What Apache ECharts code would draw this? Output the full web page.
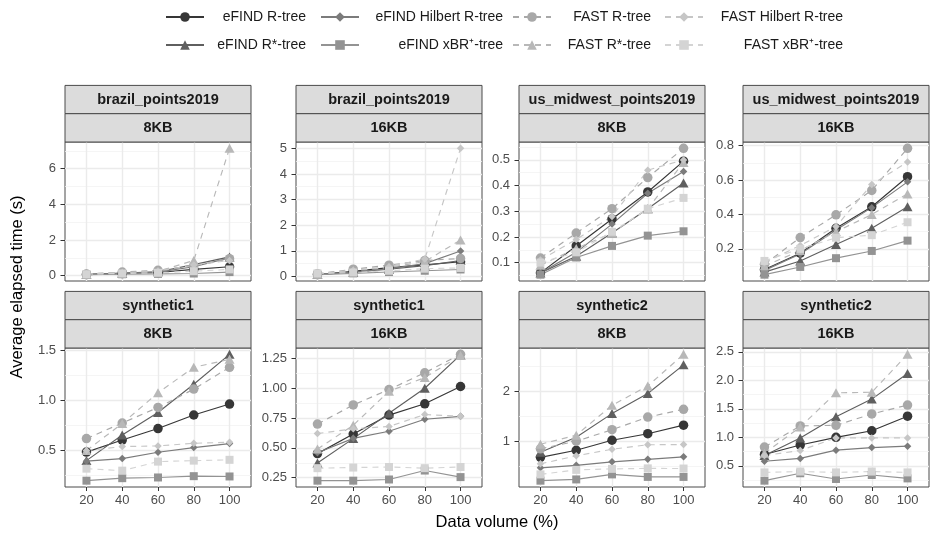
<!DOCTYPE html>
<html>
<head>
<meta charset="utf-8">
<script src="https://cdn.jsdelivr.net/npm/echarts@6/dist/echarts.min.js"></script>
<style>
  html, body { margin: 0; padding: 0; background: #fff; }
  #chart { width: 931px; height: 536px; }
</style>
</head>
<body>
<div id="chart"></div>
<script>
// Data volume (%) on the x axis
const volumes = [20, 40, 60, 80, 100];

// Facet labels (two strip rows per panel)
const datasets = ['brazil_points2019', 'brazil_points2019', 'us_midwest_points2019', 'us_midwest_points2019',
                  'synthetic1', 'synthetic1', 'synthetic2', 'synthetic2'];
const pageSizes = ['8KB', '16KB', '8KB', '16KB', '8KB', '16KB', '8KB', '16KB'];

// Index structures, in legend order
const methods = ['eFIND R-tree', 'eFIND R*-tree', 'eFIND Hilbert R-tree', 'eFIND xBR\u207A-tree',
                 'FAST R-tree', 'FAST R*-tree', 'FAST Hilbert R-tree', 'FAST xBR\u207A-tree'];

// Average elapsed time (s); one row per method, one column per data volume
const brazil8KB = [
  [0.06, 0.12, 0.18, 0.35, 0.50],
  [0.07, 0.14, 0.22, 0.62, 1.05],
  [0.06, 0.13, 0.20, 0.50, 1.00],
  [0.055, 0.08, 0.10, 0.12, 0.20],
  [0.10, 0.20, 0.30, 0.55, 0.95],
  [0.08, 0.16, 0.24, 0.85, 7.14],
  [0.09, 0.17, 0.26, 0.60, 0.85],
  [0.08, 0.12, 0.16, 0.25, 0.35]
];
const brazil16KB = [
  [0.07, 0.20, 0.34, 0.45, 0.57],
  [0.07, 0.16, 0.28, 0.42, 0.62],
  [0.07, 0.17, 0.30, 0.50, 0.99],
  [0.067, 0.12, 0.17, 0.22, 0.27],
  [0.10, 0.28, 0.44, 0.62, 0.70],
  [0.08, 0.22, 0.35, 0.58, 1.42],
  [0.10, 0.24, 0.38, 0.68, 5.00],
  [0.12, 0.15, 0.22, 0.30, 0.33]
];
const midwest8KB = [
  [0.060, 0.165, 0.270, 0.375, 0.495],
  [0.060, 0.125, 0.215, 0.310, 0.410],
  [0.060, 0.140, 0.250, 0.370, 0.455],
  [0.053, 0.120, 0.165, 0.205, 0.222],
  [0.118, 0.215, 0.310, 0.431, 0.545],
  [0.090, 0.155, 0.215, 0.310, 0.490],
  [0.110, 0.190, 0.280, 0.460, 0.500],
  [0.100, 0.140, 0.220, 0.310, 0.352]
];
const midwest16KB = [
  [0.080, 0.175, 0.320, 0.445, 0.620],
  [0.065, 0.130, 0.225, 0.320, 0.445],
  [0.075, 0.170, 0.310, 0.440, 0.590],
  [0.050, 0.095, 0.146, 0.188, 0.248],
  [0.110, 0.266, 0.398, 0.540, 0.785],
  [0.100, 0.190, 0.300, 0.400, 0.520],
  [0.120, 0.220, 0.330, 0.575, 0.705],
  [0.130, 0.200, 0.265, 0.280, 0.355]
];
const synthetic1_8KB = [
  [0.485, 0.605, 0.720, 0.855, 0.964],
  [0.400, 0.655, 0.880, 1.162, 1.460],
  [0.395, 0.420, 0.484, 0.530, 0.570],
  [0.200, 0.225, 0.232, 0.245, 0.242],
  [0.620, 0.775, 0.930, 1.113, 1.330],
  [0.500, 0.770, 1.076, 1.330, 1.410],
  [0.500, 0.540, 0.547, 0.573, 0.583],
  [0.320, 0.300, 0.390, 0.400, 0.408]
];
const synthetic1_16KB = [
  [0.452, 0.616, 0.775, 0.870, 1.015],
  [0.373, 0.578, 0.790, 1.000, 1.280],
  [0.460, 0.580, 0.640, 0.740, 0.765],
  [0.225, 0.225, 0.235, 0.310, 0.255],
  [0.700, 0.860, 0.990, 1.130, 1.285],
  [0.490, 0.690, 0.975, 1.090, 1.275],
  [0.620, 0.660, 0.680, 0.780, 0.765],
  [0.330, 0.335, 0.340, 0.330, 0.340]
];
const synthetic2_8KB = [
  [0.680, 0.820, 1.020, 1.150, 1.320],
  [0.780, 1.080, 1.550, 1.950, 2.520],
  [0.470, 0.520, 0.590, 0.640, 0.690],
  [0.215, 0.240, 0.340, 0.290, 0.290],
  [0.850, 1.000, 1.230, 1.480, 1.636],
  [0.940, 1.120, 1.715, 2.100, 2.730],
  [0.550, 0.710, 0.840, 0.930, 0.934],
  [0.340, 0.430, 0.450, 0.460, 0.457]
];
const synthetic2_16KB = [
  [0.700, 0.865, 1.000, 1.115, 1.370],
  [0.680, 0.990, 1.360, 1.670, 2.120],
  [0.580, 0.630, 0.775, 0.820, 0.845],
  [0.240, 0.370, 0.270, 0.340, 0.280],
  [0.830, 1.200, 1.210, 1.410, 1.565],
  [0.720, 1.180, 1.780, 1.790, 2.455],
  [0.680, 0.770, 0.990, 0.990, 0.990],
  [0.385, 0.400, 0.385, 0.400, 0.385]
];
const panelValues = [brazil8KB, brazil16KB, midwest8KB, midwest16KB,
                     synthetic1_8KB, synthetic1_16KB, synthetic2_8KB, synthetic2_16KB];

// y tick labels of each panel (free y scales)
const yTickLabels = [
  ['0', '2', '4', '6'],
  ['0', '1', '2', '3', '4', '5'],
  ['0.1', '0.2', '0.3', '0.4', '0.5'],
  ['0.2', '0.4', '0.6', '0.8'],
  ['0.5', '1.0', '1.5'],
  ['0.25', '0.50', '0.75', '1.00', '1.25'],
  ['1', '2'],
  ['0.5', '1.0', '1.5', '2.0', '2.5']
];

// ---- styling & layout ----
const FONT = '"Liberation Sans", Arial, Helvetica, sans-serif';
const greys = ['#363636', '#5f5f5f', '#7b7b7b', '#939393', '#a8a8a8', '#b8b8b8', '#c6c6c6', '#d4d4d4'];
const shapes = ['circle', 'triangle', 'diamond', 'rect', 'circle', 'triangle', 'diamond', 'rect'];
const sizes = [9.5, [10, 9], 7.5, 8, 9.5, [10, 9], 7.5, 8];

const colLeft = [65, 296, 519, 743];
const panelW = 186;
const rowTop = [142, 348];
const panelH = 139;
const stripH = 28.3;

const grids = [], xAxes = [], yAxes = [], lineSeries = [], pointSeries = [], graphics = [];

panelValues.forEach((vals, p) => {
  const row = p < 4 ? 0 : 1;
  const col = p % 4;
  const left = colLeft[col], top = rowTop[row];

  grids.push({
    left: left, top: top, width: panelW, height: panelH,
    show: true, backgroundColor: '#fff', borderColor: '#4a4a4a', borderWidth: 1
  });

  // x: discrete-style spacing, 0.6 category widths of padding on each side
  xAxes.push({
    type: 'value', gridIndex: p, min: 8, max: 112,
    axisLine: { show: false },
    axisTick: { show: row === 1, customValues: volumes, length: 4, lineStyle: { color: '#333', width: 1 } },
    axisLabel: { show: row === 1, customValues: volumes, margin: 7, color: '#4d4d4d', fontSize: 13, fontFamily: FONT },
    splitLine: { show: true, lineStyle: { color: '#ebebeb', width: 1.4 } }
  });

  // y range: data range expanded by 5% each side
  const all = vals.flat();
  const lo = Math.min(...all), hi = Math.max(...all);
  const pad = 0.05 * (hi - lo);
  const yMin = lo - pad, yMax = hi + pad;

  const labels = yTickLabels[p];
  const ticks = labels.map(Number);
  const step = ticks[1] - ticks[0];
  const minors = [];
  for (let v = ticks[0] - step / 2; v <= yMax + 1e-9; v += step) {
    if (v >= yMin) minors.push(+v.toFixed(6));
  }

  yAxes.push({
    type: 'value', gridIndex: p, min: yMin, max: yMax, position: 'left',
    axisLine: { show: false },
    axisTick: { show: true, customValues: ticks, length: 4.5, lineStyle: { color: '#333', width: 1 } },
    axisLabel: {
      customValues: ticks, margin: 9, color: '#4d4d4d', fontSize: 13, fontFamily: FONT,
      formatter: v => {
        let best = 0;
        ticks.forEach((t, i) => { if (Math.abs(t - v) < Math.abs(ticks[best] - v)) best = i; });
        return labels[best];
      }
    },
    splitLine: { show: true, lineStyle: { color: '#ebebeb', width: 1.4 } }
  });
  // minor grid lines
  yAxes.push({
    type: 'value', gridIndex: p, min: yMin, max: yMax, position: 'right',
    axisLine: { show: false },
    axisTick: { show: false, customValues: minors },
    axisLabel: { show: false, customValues: minors },
    splitLine: { show: true, lineStyle: { color: '#f3f3f3', width: 0.8 } }
  });

  methods.forEach((name, m) => {
    const data = volumes.map((v, i) => [v, vals[m][i]]);
    lineSeries.push({
      type: 'line', name: name, xAxisIndex: p, yAxisIndex: 2 * p, data: data,
      symbol: shapes[m], symbolSize: sizes[m], showSymbol: false,
      lineStyle: { color: greys[m], width: 1.15, type: m < 4 ? 'solid' : [6, 5] },
      itemStyle: { color: greys[m] },
      z: 2, silent: true, animation: false
    });
    pointSeries.push({
      type: 'scatter', name: name, xAxisIndex: p, yAxisIndex: 2 * p, data: data,
      symbol: shapes[m], symbolSize: sizes[m],
      itemStyle: { color: greys[m], opacity: 1 },
      z: 3, silent: true, animation: false
    });
  });

  // facet strips
  [datasets[p], pageSizes[p]].forEach((txt, k) => {
    const sy = top - stripH * (2 - k);
    graphics.push({
      type: 'rect', silent: true, z: 10,
      shape: { x: left, y: sy, width: panelW, height: stripH },
      style: { fill: '#dcdcdc', stroke: '#4a4a4a', lineWidth: 1 }
    });
    graphics.push({
      type: 'text', silent: true, z: 11,
      x: left + panelW / 2, y: sy + stripH / 2 + 0.5,
      style: { text: txt, align: 'center', verticalAlign: 'middle', fill: '#1a1a1a',
               font: 'bold 14.5px ' + FONT }
    });
  });
});

// axis titles
graphics.push({
  type: 'text', silent: true, x: 17, y: 287, rotation: Math.PI / 2,
  style: { text: 'Average elapsed time (s)', align: 'center', verticalAlign: 'middle',
           fill: '#000', font: '16.5px ' + FONT }
});
graphics.push({
  type: 'text', silent: true, x: 497, y: 522,
  style: { text: 'Data volume (%)', align: 'center', verticalAlign: 'middle',
           fill: '#000', font: '16.5px ' + FONT }
});

// legend: four columns of two entries, labels right-aligned within each column
const legKeyLeft = [165, 320, 512, 664];
const legTextRight = [305, 502, 650, 842];
const keyW = 38;
const legends = legKeyLeft.map((kl, c) => ({
  orient: 'vertical', left: kl, top: 10, padding: 0,
  itemWidth: keyW, itemHeight: 12, itemGap: 14,
  selectedMode: false,
  data: [methods[2 * c], methods[2 * c + 1]],
  formatter: n => '{t|' + n + '}',
  textStyle: {
    rich: { t: { width: legTextRight[c] - (kl + keyW + 5), align: 'right', fontSize: 14,
                 lineHeight: 16, color: '#1a1a1a', fontFamily: FONT } }
  }
}));

const chart = echarts.init(document.getElementById('chart'));
chart.setOption({
  animation: false,
  textStyle: { fontFamily: FONT },
  grid: grids,
  xAxis: xAxes,
  yAxis: yAxes,
  legend: legends,
  series: lineSeries.concat(pointSeries),
  graphic: graphics
});
</script>
</body>
</html>
